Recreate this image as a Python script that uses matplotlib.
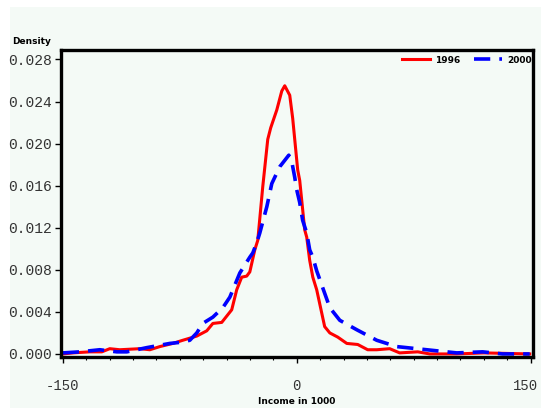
import matplotlib
matplotlib.use("Agg")
import matplotlib.pyplot as plt
from matplotlib.patches import Rectangle
from matplotlib.ticker import MultipleLocator, FixedLocator
from matplotlib.transforms import ScaledTranslation

# Data (income in 1000, density)
x_1996 = [-150, -143.6, -132.7, -125, -119.9, -113.5, -100.6, -94.2, -87.8, -79.5,
          -73.1, -64.1, -57.7, -53.8, -48.1, -41.7, -38.5, -35.3, -32.1, -30.1,
          -26.9, -25, -21.8, -18.6, -16.7, -12.8, -9.6, -7.7, -4.5, -2.6,
          0.6, 1.9, 3.2, 5.1, 6.4, 8.3, 10.3, 12.8, 17.9, 21.2, 26.3, 32.1, 39.1,
          45.5, 51.3, 59.6, 66, 77.6, 85.3, 102.6, 120, 149.4]
y_1996 = [0.0000, 0.0001, 0.0002, 0.0002, 0.0005, 0.0004, 0.0005, 0.0004, 0.0007, 0.0010,
          0.0013, 0.0017, 0.0022, 0.0029, 0.0030, 0.0042, 0.0061, 0.0073, 0.0074, 0.0078,
          0.0099, 0.0108, 0.0159, 0.0204, 0.0215, 0.0232, 0.0250, 0.0255, 0.0246, 0.0224,
          0.0175, 0.0165, 0.0146, 0.0118, 0.0111, 0.0089, 0.0073, 0.0061, 0.0026, 0.0020, 0.0016,
          0.0010, 0.0009, 0.0004, 0.0004, 0.0005, 0.0001, 0.0002, 0.0000, 0.0000, 0.0001, 0.0000]

x_2000 = [-150, -139.1, -126.3, -115.4, -109, -96.2, -81.4, -75, -68.6, -64.1,
          -60.3, -53.8, -47.4, -42.9, -36.5, -30.1, -28.2, -25.6, -23.7, -19.2,
          -16, -10.9, -5.1, -3.2, -1.3, 0, 1.9, 3.8, 6.4, 8.3, 10.3, 12.8, 21.2,
          27.6, 38.5, 51.3, 64.1, 76.9, 89.7, 102.6, 119.2, 132, 141, 149.4]
y_2000 = [0.0001, 0.0002, 0.0004, 0.0002, 0.0002, 0.0006, 0.0010, 0.0011, 0.0013, 0.0020,
          0.0029, 0.0035, 0.0044, 0.0054, 0.0077, 0.0092, 0.0096, 0.0106, 0.0115, 0.0140,
          0.0162, 0.0178, 0.0189, 0.0183, 0.0168, 0.0156, 0.0144, 0.0127, 0.0115, 0.0099,
          0.0092, 0.0079, 0.0044, 0.0032, 0.0023, 0.0013, 0.0007, 0.0005, 0.0003, 0.0001,
          0.0002, 0.0000, 0.0000, 0.0000]

y_ticks = [0.000, 0.004, 0.008, 0.012, 0.016, 0.020, 0.024, 0.028]
x_ticks = [-150, 0, 150]

BG = "#F4FAF6"
W, H = 541, 408
fig = plt.figure(figsize=(W / 100, H / 100), dpi=100, facecolor="white")
fig.patches.append(Rectangle((10 / W, 0), 1 - 10 / W, 1 - 7 / H, transform=fig.transFigure,
                             facecolor=BG, edgecolor="none", zorder=-10))

ax = fig.add_axes([60.5 / W, 1 - 357 / H, 472.5 / W, 307 / H])
ax.set_facecolor(BG)

ax.plot(x_1996, y_1996, color="#FF0000", lw=2.2, label="1996", solid_joinstyle="round")
ax.plot(x_2000, y_2000, color="#0000FF", lw=2.6, ls=(0, (4.5, 2.5)), label="2000")

ax.set_xlim(-151.5, 151.5)
ax.set_ylim(-0.00029, 0.0289)

for s in ax.spines.values():
    s.set_linewidth(2.4)
    s.set_color("black")

ax.xaxis.set_major_locator(FixedLocator(x_ticks))
ax.xaxis.set_minor_locator(MultipleLocator(15))
ax.yaxis.set_major_locator(FixedLocator(y_ticks))
ax.set_xticklabels([str(v) for v in x_ticks])
ax.set_yticklabels([f"{v:.3f}" for v in y_ticks])

ax.tick_params(axis="x", which="major", direction="out", length=4, width=1.0, pad=12,
               labelsize=10, labelcolor="#333333")
ax.tick_params(axis="x", which="minor", direction="out", length=2.5, width=0.8)
ax.tick_params(axis="y", which="major", direction="out", length=4, width=1.0, pad=2,
               labelsize=10.5, labelcolor="#333333")
for lab in ax.get_xticklabels() + ax.get_yticklabels():
    lab.set_fontfamily("Liberation Mono")

# keep the right-most x label fully inside the figure
last = ax.get_xticklabels()[-1]
last.set_transform(last.get_transform() + ScaledTranslation(-5 / 100, 0, fig.dpi_scale_trans))

leg = ax.legend(loc="center right", bbox_to_anchor=(0.998, 0.967), ncol=2, frameon=False,
                borderaxespad=0, borderpad=0, handlelength=3.1, handletextpad=0.6,
                columnspacing=1.5, prop={"weight": "bold", "size": 6.5})

fig.text(12 / W, 1 - 41 / H, "Density", fontsize=6.5, fontweight="bold", ha="left", va="center")
fig.text(297 / W, 1 - 401 / H, "Income in 1000", fontsize=6.5, fontweight="bold",
         ha="center", va="center")

fig.savefig("out.png", dpi=100, facecolor="white")
